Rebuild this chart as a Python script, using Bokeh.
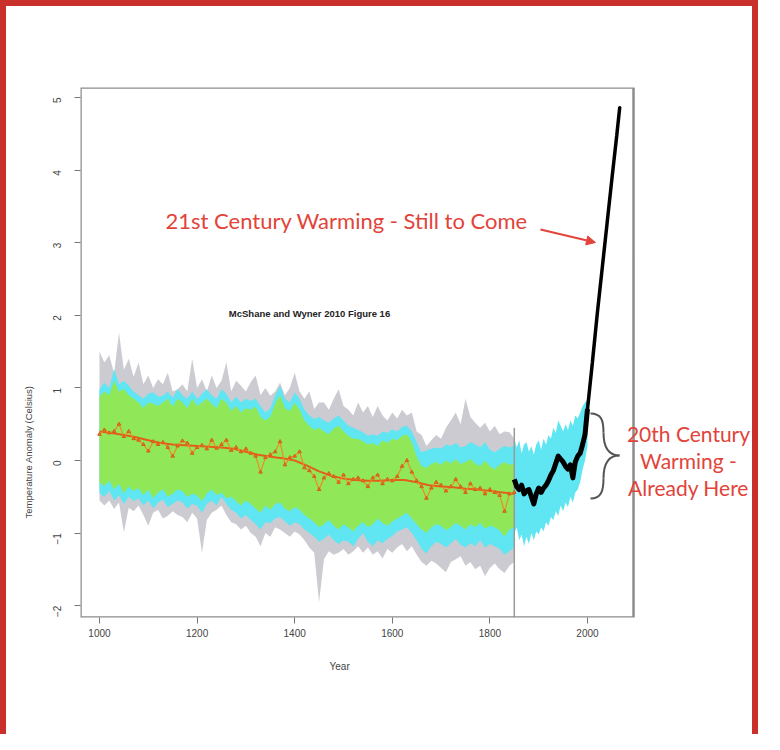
import math
from bokeh.plotting import figure
from bokeh.models import Range1d, Label, Arrow, NormalHead, FixedTicker, Title
from bokeh.embed import file_html
from bokeh.resources import INLINE

# ---------------- data ----------------
recon_years = list(range(1000, 1851, 10))
recon_raw = [0.36, 0.42, 0.38, 0.40, 0.50, 0.33, 0.40, 0.30, 0.28, 0.22,
             0.13, 0.26, 0.22, 0.25, 0.18, 0.06, 0.20, 0.27, 0.24, 0.10,
             0.18, 0.21, 0.16, 0.28, 0.17, 0.22, 0.28, 0.14, 0.18, 0.12,
             0.16, 0.10, 0.06, -0.16, 0.04, 0.08, 0.12, 0.26, -0.06, 0.04,
             0.06, 0.12, -0.10, -0.14, -0.22, -0.40, -0.24, -0.18, -0.22, -0.30,
             -0.20, -0.32, -0.26, -0.24, -0.28, -0.36, -0.24, -0.20, -0.32, -0.26,
             -0.28, -0.22, -0.08, 0.00, -0.16, -0.28, -0.36, -0.52, -0.38, -0.30,
             -0.34, -0.42, -0.36, -0.26, -0.36, -0.44, -0.32, -0.40, -0.38, -0.46,
             -0.40, -0.44, -0.48, -0.70, -0.46, -0.44]
grey_hi = [1.50, 1.35, 1.45, 1.20, 1.76, 1.25, 1.40, 1.15, 1.35, 1.05,
           1.17, 1.00, 1.12, 1.05, 1.21, 0.95, 0.98, 1.05, 0.95, 1.40,
           1.00, 1.12, 0.95, 1.17, 1.00, 1.10, 1.35, 0.95, 1.10, 1.03,
           0.95, 1.08, 1.17, 0.90, 1.00, 0.89, 0.95, 1.07, 0.90, 1.00,
           1.21, 0.95, 0.85, 0.95, 0.71, 0.80, 0.80, 0.70, 0.85, 0.98,
           0.75, 0.70, 0.62, 0.80, 0.66, 0.75, 0.60, 0.75, 0.62, 0.55,
           0.66, 0.58, 0.70, 0.62, 0.66, 0.40, 0.35, 0.20, 0.28, 0.35,
           0.30, 0.45, 0.55, 0.66, 0.50, 0.85, 0.60, 0.52, 0.45, 0.52,
           0.40, 0.48, 0.36, 0.40, 0.39, 0.30]
cyan_hi = [0.98, 1.07, 1.00, 1.26, 1.05, 1.10, 1.03, 0.95, 0.90, 0.85,
           0.92, 0.94, 0.88, 0.89, 0.95, 0.86, 0.98, 0.90, 0.85, 0.95,
           0.85, 0.92, 0.98, 0.90, 0.85, 0.98, 0.92, 0.80, 0.88, 0.80,
           0.85, 0.82, 0.85, 0.75, 0.66, 0.72, 0.90, 1.03, 0.85, 0.80,
           0.94, 0.85, 0.70, 0.62, 0.57, 0.60, 0.55, 0.52, 0.58, 0.62,
           0.55, 0.48, 0.45, 0.42, 0.39, 0.34, 0.36, 0.34, 0.40, 0.38,
           0.43, 0.40, 0.46, 0.48, 0.40, 0.25, 0.11, 0.14, 0.16, 0.18,
           0.16, 0.22, 0.20, 0.24, 0.18, 0.20, 0.25, 0.22, 0.18, 0.25,
           0.15, 0.11, 0.16, 0.20, 0.18, 0.20]
green_hi = [0.88, 0.95, 0.90, 1.10, 0.95, 0.98, 0.90, 0.85, 0.80, 0.72,
            0.80, 0.78, 0.75, 0.80, 0.85, 0.74, 0.85, 0.80, 0.72, 0.85,
            0.75, 0.80, 0.85, 0.78, 0.72, 0.85, 0.80, 0.68, 0.75, 0.66,
            0.72, 0.70, 0.74, 0.60, 0.55, 0.60, 0.78, 0.90, 0.72, 0.68,
            0.80, 0.70, 0.55, 0.48, 0.42, 0.45, 0.40, 0.36, 0.44, 0.48,
            0.40, 0.34, 0.30, 0.30, 0.26, 0.22, 0.24, 0.20, 0.28, 0.24,
            0.30, 0.28, 0.34, 0.36, 0.25, 0.05, -0.08, -0.10, -0.05, -0.02,
            -0.06, 0.00, -0.04, 0.02, -0.05, -0.02, 0.02, -0.04, -0.08, 0.00,
            -0.08, -0.12, -0.06, -0.02, -0.06, -0.05]
green_lo = [-0.30, -0.35, -0.28, -0.40, -0.32, -0.45, -0.36, -0.42, -0.38, -0.48,
            -0.40, -0.52, -0.44, -0.40, -0.50, -0.46, -0.40, -0.42, -0.50, -0.46,
            -0.48, -0.56, -0.45, -0.40, -0.48, -0.44, -0.52, -0.50, -0.56, -0.62,
            -0.55, -0.60, -0.66, -0.72, -0.62, -0.68, -0.60, -0.58, -0.66, -0.70,
            -0.64, -0.68, -0.75, -0.80, -0.85, -0.92, -0.88, -0.82, -0.90, -0.95,
            -0.88, -0.92, -0.98, -0.90, -0.85, -0.92, -0.88, -0.80, -0.86, -0.90,
            -0.84, -0.80, -0.76, -0.72, -0.80, -0.88, -0.95, -1.00, -0.92, -0.88,
            -0.90, -0.96, -0.92, -0.86, -0.90, -0.95, -0.88, -0.92, -0.86, -0.94,
            -0.90, -0.92, -0.96, -1.05, -0.95, -0.92]
cyan_lo = [-0.45, -0.50, -0.42, -0.55, -0.48, -0.60, -0.50, -0.56, -0.52, -0.62,
           -0.55, -0.66, -0.58, -0.54, -0.64, -0.60, -0.55, -0.58, -0.66, -0.60,
           -0.62, -0.72, -0.60, -0.55, -0.62, -0.50, -0.60, -0.68, -0.72, -0.80,
           -0.75, -0.82, -0.88, -0.95, -0.85, -0.86, -0.80, -0.78, -0.84, -0.90,
           -0.85, -0.88, -0.95, -1.00, -1.05, -1.12, -1.08, -1.02, -1.10, -1.15,
           -1.10, -1.12, -1.18, -1.08, -1.00, -1.12, -1.18, -1.10, -1.14, -1.08,
           -1.04, -0.98, -0.95, -0.92, -1.00, -1.10, -1.22, -1.28, -1.18, -1.12,
           -1.15, -1.20, -1.14, -1.08, -1.16, -1.20, -1.14, -1.18, -1.10, -1.20,
           -1.15, -1.18, -1.22, -1.30, -1.25, -1.20]
grey_lo = [-0.55, -0.62, -0.55, -0.67, -0.58, -0.99, -0.65, -0.70, -0.62, -0.75,
           -0.90, -0.72, -0.68, -0.80, -0.76, -0.70, -0.75, -0.78, -0.85, -0.72,
           -0.80, -1.27, -0.82, -0.72, -0.68, -0.62, -0.75, -0.85, -0.88, -0.95,
           -0.90, -1.00, -1.05, -1.18, -1.00, -1.05, -0.92, -0.95, -1.00, -1.05,
           -0.98, -1.02, -1.10, -1.20, -1.27, -1.95, -1.36, -1.25, -1.30, -1.27,
           -1.22, -1.30, -1.25, -1.18, -1.27, -1.20, -1.30, -1.25, -1.35, -1.22,
           -1.27, -1.20, -1.15, -1.25, -1.18, -1.30, -1.40, -1.45, -1.38, -1.42,
           -1.48, -1.54, -1.40, -1.36, -1.32, -1.45, -1.40, -1.50, -1.45, -1.59,
           -1.48, -1.42, -1.50, -1.55, -1.45, -1.40]

smooth_years = [1000, 1025, 1050, 1075, 1100, 1125, 1150, 1175, 1200, 1225, 1250, 1275,
                1300, 1325, 1350, 1375, 1400, 1425, 1450, 1475, 1500, 1525, 1550, 1575,
                1600, 1625, 1650, 1675, 1700, 1725, 1750, 1775, 1800, 1825, 1850]
smooth_vals = [0.40, 0.38, 0.35, 0.32, 0.28, 0.24, 0.22, 0.21, 0.20, 0.19, 0.18, 0.16,
               0.12, 0.08, 0.05, 0.03, 0.00, -0.07, -0.15, -0.21, -0.25, -0.27, -0.28, -0.28,
               -0.27, -0.27, -0.30, -0.34, -0.36, -0.37, -0.39, -0.40, -0.42, -0.44, -0.46]

inst_years = list(range(1850, 2001, 5))
inst_vals = [-0.26, -0.36, -0.40, -0.34, -0.46, -0.42, -0.40, -0.50, -0.60, -0.46,
             -0.38, -0.44, -0.38, -0.34, -0.28, -0.20, -0.14, -0.04, 0.06, 0.02,
             -0.02, -0.08, -0.12, -0.06, -0.24, -0.02, 0.06, 0.10, 0.22, 0.36, 0.71]
inst_hi = [0.30, 0.18, 0.28, 0.10, 0.22, 0.25, 0.12, 0.20, 0.08, 0.22,
           0.28, 0.15, 0.30, 0.22, 0.35, 0.30, 0.45, 0.38, 0.55, 0.48,
           0.40, 0.50, 0.42, 0.55, 0.48, 0.62, 0.58, 0.66, 0.75, 0.80, 0.85]
inst_lo = [-1.00, -0.92, -1.10, -1.02, -1.18, -1.05, -1.15, -1.00, -1.10, -0.98,
           -1.02, -0.92, -0.98, -0.85, -0.90, -0.78, -0.82, -0.70, -0.76, -0.62,
           -0.70, -0.58, -0.64, -0.50, -0.58, -0.44, -0.40, -0.30, -0.12, 0.00, 0.20]

proj_years = [2000, 2003, 2010, 2020, 2030, 2040, 2050, 2060, 2066]
proj_vals = [0.71, 0.90, 1.35, 2.02, 2.64, 3.26, 3.88, 4.48, 4.86]

x_ticks = [1000, 1200, 1400, 1600, 1800, 2000]
y_ticks = [-2, -1, 0, 1, 2, 3, 4, 5]

RED = "#e2433a"
AXIS_FONT = "Liberation Sans"
X_MIN, X_MAX, Y_MIN, Y_MAX = 961.1, 2094.3, -2.163, 5.138

# ---------------- figure ----------------
# the data frame extends to the right page edge so the right-hand notes are not clipped;
# the chart box itself is drawn as an outline rectangle over the plotted x range
p = figure(width=758, height=734, output_backend="svg", toolbar_location=None,
           x_range=Range1d(X_MIN, 2362.7), y_range=Range1d(Y_MIN, Y_MAX),
           min_border_left=74, min_border_right=0, min_border_top=81, min_border_bottom=123,
           background_fill_color="white", border_fill_color="white",
           styles={"border-top": "6px solid #c9302c", "border-left": "6px solid #c9302c",
                   "border-right": "6px solid #c9302c"})
p.grid.visible = False
p.outline_line_color = None

for ax, ticks in ((p.xaxis, x_ticks), (p.yaxis, y_ticks)):
    ax.ticker = FixedTicker(ticks=ticks)
    ax.axis_line_color = None
    ax.major_tick_line_color = "#777777"
    ax.major_tick_out = 6
    ax.major_tick_in = 0
    ax.minor_tick_line_color = None
    ax.major_label_text_font = AXIS_FONT
    ax.major_label_text_font_size = "10px"
    ax.major_label_text_color = "#444444"
p.xaxis.major_label_standoff = 5
p.yaxis.major_label_standoff = 17
p.yaxis.major_label_orientation = math.pi / 2

# bands
p.varea(x=recon_years, y1=grey_lo, y2=grey_hi, fill_color="#c5c5cc", fill_alpha=0.9)
p.varea(x=recon_years, y1=cyan_lo, y2=cyan_hi, fill_color="#5fe6f2")
p.varea(x=recon_years, y1=green_lo, y2=green_hi, fill_color="#90e858")
p.varea(x=inst_years, y1=inst_lo, y2=inst_hi, fill_color="#5fe6f2")

# vertical grey line at start of instrumental period
p.segment(x0=[1850], y0=[Y_MIN], x1=[1850], y1=[0.45], line_color="#9a9a9a", line_width=1.5)

# reconstruction
p.line(smooth_years, smooth_vals, line_color="#e2601c", line_width=2)
p.line(recon_years, recon_raw, line_color="#ef8a22", line_width=1.2)
p.scatter(recon_years, recon_raw, size=3.5, marker="triangle", fill_color="#e8761e", line_color="#d0601a")

# instrumental + projection
p.line(inst_years, inst_vals, line_color="black", line_width=5, line_join="round")
p.line(proj_years, proj_vals, line_color="black", line_width=3.5, line_cap="round")

# chart box
p.quad(left=[X_MIN], right=[X_MAX], bottom=[Y_MIN], top=[Y_MAX],
       fill_color=None, line_color="#8c8c8c", line_width=2.5)

# ---------------- annotations ----------------
def dx(px):
    return 1000 + (px - 107) / 0.488

def dy(py):
    return 5 - (py - 105) / 72.6

p.add_layout(Label(x=dx(173), y=dy(228), text="21st Century Warming - Still to Come",
                   text_font="Lato", text_font_size="22px", text_color=RED,
                   text_baseline="middle", text_align="left"))
p.add_layout(Arrow(end=NormalHead(size=9, fill_color=RED, line_color=RED),
                   x_start=dx(548), y_start=dy(237), x_end=dx(603), y_end=dy(250),
                   line_color=RED, line_width=2))
p.add_layout(Label(x=dx(317), y=dy(321), text="McShane and Wyner 2010 Figure 16",
                   text_font=AXIS_FONT, text_font_size="9.5px", text_font_style="bold",
                   text_color="#222222", text_align="center", text_baseline="middle"))
for txt, py in (("20th Century", 441), ("Warming -", 468), ("Already Here", 495)):
    p.add_layout(Label(x=dx(696), y=dy(py), text=txt, text_font="Lato",
                       text_font_size="21px", text_color=RED,
                       text_align="center", text_baseline="middle"))

# brace
bx0 = [598, 611, 627, 611]
by0 = [421, 440, 463, 486]
bx1 = [611, 627, 611, 598]
by1 = [440, 463, 486, 506]
c0x = [609, 611, 616, 611]
c0y = [421, 455, 463, 498]
c1x = [611, 616, 611, 609]
c1y = [428, 463, 471, 506]
p.bezier(x0=[dx(v) for v in bx0], y0=[dy(v) for v in by0],
         x1=[dx(v) for v in bx1], y1=[dy(v) for v in by1],
         cx0=[dx(v) for v in c0x], cy0=[dy(v) for v in c0y],
         cx1=[dx(v) for v in c1x], cy1=[dy(v) for v in c1y],
         line_color="#555555", line_width=2)

# axis titles
p.add_layout(Title(text="Year", align="left", offset=249, text_font=AXIS_FONT,
                   text_font_size="10px", text_font_style="normal", text_color="#444444",
                   standoff=39), "below")
p.add_layout(Title(text="Temperature Anomaly (Celsius)", align="left", offset=99,
                   text_font=AXIS_FONT, text_font_size="9.5px", text_font_style="normal",
                   text_color="#444444", standoff=26), "left")

open("out.html", "w").write(file_html(p, INLINE))
